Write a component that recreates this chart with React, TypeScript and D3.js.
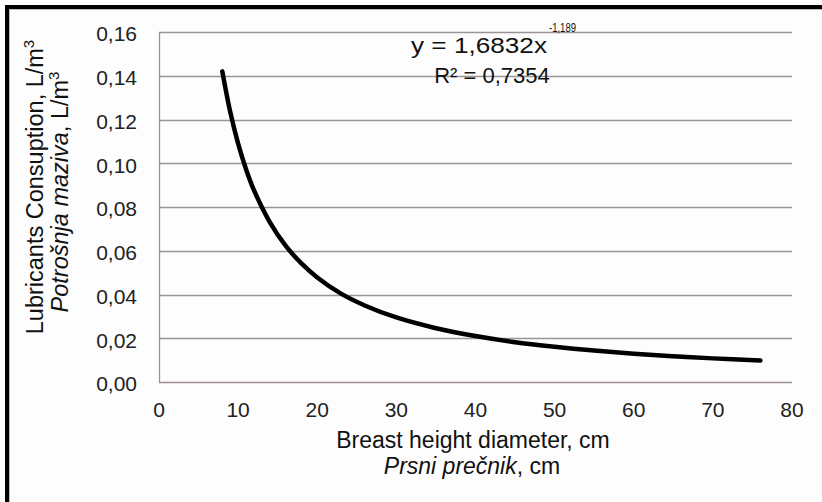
import React from "react";
import * as d3 from "d3";

const diameters = [8, 9, 10, 11, 12, 14, 16, 18, 20, 23, 26, 30, 35, 40, 45, 50, 55, 60, 65, 70, 76];
const consumption = [0.142, 0.1235, 0.109, 0.0973, 0.0877, 0.0731, 0.0623, 0.0542, 0.0478, 0.0404, 0.035, 0.0295, 0.0246, 0.021, 0.0182, 0.0161, 0.01435, 0.0129, 0.01177, 0.0108, 0.0098];
const xTicks = [0, 10, 20, 30, 40, 50, 60, 70, 80];
const yTicks = [0, 0.02, 0.04, 0.06, 0.08, 0.1, 0.12, 0.14, 0.16];
const equationMain = "y = 1,6832x";
const equationExp = "-1,189";
const rSquared = "R² = 0,7354";

const W = 822;
const H = 502;
const FONT = "'Liberation Sans', Arial, sans-serif";

export default function App() {
  const x = d3.scaleLinear().domain([0, 80]).range([159, 792]);
  const y = d3.scaleLinear().domain([0, 0.16]).range([382, 32]);
  const pts = diameters.map((d, i) => [d, consumption[i]] as [number, number]);
  const line = d3
    .line<[number, number]>()
    .x((d) => x(d[0]))
    .y((d) => y(d[1]))
    .curve(d3.curveCatmullRom.alpha(0.5));
  const fmt = (v: number) => v.toFixed(2).replace(".", ",");

  return (
    <svg
      width={W}
      height={H}
      style={{ position: "absolute", left: 0, top: 0, background: "#fdfdfd" }}
      fontFamily={FONT}
    >
      <rect x={0} y={0} width={W} height={H} fill="#fdfdfd" />
      <rect x={7} y={7} width={W + 20} height={H + 20} fill="none" stroke="#000" strokeWidth={4} />
      <line x1={9.5} y1={9} x2={9.5} y2={H} stroke="#bbb" strokeWidth={1} />
      <line x1={9} y1={9.5} x2={W} y2={9.5} stroke="#bbb" strokeWidth={1} />

      {yTicks.map((t) => (
        <g key={t}>
          <line
            x1={x(0)}
            x2={x(80)}
            y1={Math.round(y(t)) + 0.5}
            y2={Math.round(y(t)) + 0.5}
            stroke={t === 0 ? "#a08e8e" : "#9a9494"}
            strokeWidth={1.3}
          />
          <text x={137} y={y(t) + 2} dy="0.35em" textAnchor="end" fontSize={21} fill="#222">
            {fmt(t)}
          </text>
        </g>
      ))}
      <line x1={x(0) + 0.5} x2={x(0) + 0.5} y1={y(0.16)} y2={y(0)} stroke="#9a9494" strokeWidth={1.3} />

      {xTicks.map((t) => (
        <text key={t} x={x(t)} y={417} textAnchor="middle" fontSize={21} fill="#222">
          {t}
        </text>
      ))}

      <path d={line(pts) || ""} fill="none" stroke="#000" strokeWidth={4.5} strokeLinecap="round" />

      <text x={411} y={53} fontSize={21.5} fill="#111" textLength={136} lengthAdjust="spacingAndGlyphs">
        {equationMain}
      </text>
      <text x={549} y={31.5} fontSize={12.5} fill="#111" textLength={27} lengthAdjust="spacingAndGlyphs">
        {equationExp}
      </text>
      <text x={492} y={83} textAnchor="middle" fontSize={22} fill="#111">
        {rSquared}
      </text>

      <text x={473} y={448} textAnchor="middle" fontSize={23} fill="#111">
        Breast height diameter, cm
      </text>
      <text x={472} y={474} textAnchor="middle" fontSize={23} fill="#111">
        <tspan fontStyle="italic">Prsni prečnik</tspan>, cm
      </text>

      <text transform="translate(43,187) rotate(-90)" textAnchor="middle" fontSize={23.5} fill="#111">
        Lubricants Consuption, L/m
        <tspan fontSize={15} dy={-9}>3</tspan>
      </text>
      <text transform="translate(68,192) rotate(-90)" textAnchor="middle" fontSize={23.5} fill="#111">
        <tspan fontStyle="italic">Potrošnja maziva</tspan>, L/m
        <tspan fontSize={15} dy={-9}>3</tspan>
      </text>
    </svg>
  );
}
